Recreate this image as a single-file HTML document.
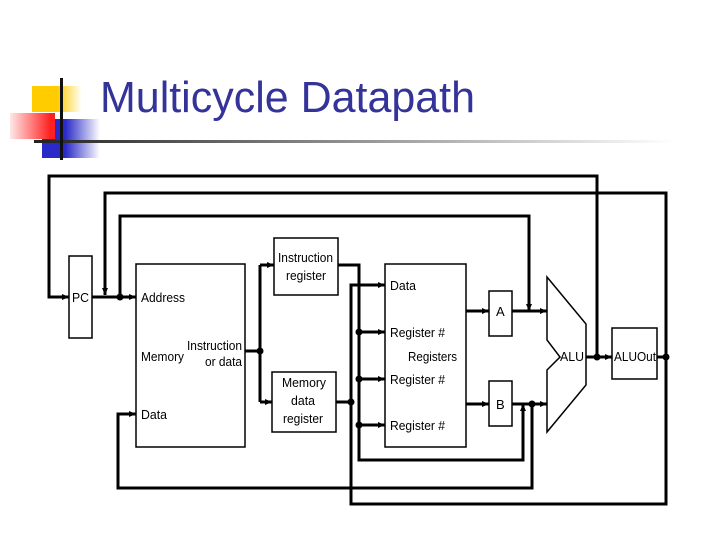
<!DOCTYPE html>
<html><head><meta charset="utf-8"><style>
html,body{margin:0;padding:0;background:#fff;}
svg{display:block;}
</style></head><body>
<svg width="720" height="540" viewBox="0 0 720 540" xmlns="http://www.w3.org/2000/svg" font-family="Liberation Sans, sans-serif">
<defs>
<linearGradient id="hl" x1="0" x2="1" y1="0" y2="0">
<stop offset="0" stop-color="#222"/><stop offset="0.45" stop-color="#888"/><stop offset="1" stop-color="#fff"/>
</linearGradient>
<linearGradient id="yg" x1="0" x2="1"><stop offset="0.5" stop-color="#ffcc00"/><stop offset="1" stop-color="#fff"/></linearGradient>
<linearGradient id="bg" x1="0" x2="1"><stop offset="0.4" stop-color="#2a2ac8"/><stop offset="1" stop-color="#fff"/></linearGradient>
<linearGradient id="rg" x1="1" x2="0"><stop offset="0.1" stop-color="#ff2020"/><stop offset="1" stop-color="#ffe8e8"/></linearGradient>
<marker id="ar" markerWidth="8" markerHeight="8" refX="7" refY="4" orient="auto" markerUnits="userSpaceOnUse">
<path d="M0,1 L7,4 L0,7 z" fill="#000"/></marker>
</defs>
<rect x="32" y="86" width="50" height="26" fill="url(#yg)"/>
<rect x="42" y="119" width="58" height="39" fill="url(#bg)"/>
<rect x="10" y="113" width="45" height="26" fill="url(#rg)"/>
<rect x="34" y="140" width="640" height="3" fill="url(#hl)"/>
<rect x="60" y="78" width="3" height="82" fill="#111"/>
<text x="100" y="112" font-size="44" fill="#333399" textLength="375" lengthAdjust="spacingAndGlyphs">Multicycle Datapath</text>

<g stroke="#000" stroke-width="3" fill="none">
<rect x="69" y="256" width="23" height="82" stroke-width="1.5"/>
<rect x="136" y="264" width="109" height="183" stroke-width="1.5"/>
<rect x="274" y="238" width="64" height="57" stroke-width="1.5"/>
<rect x="272" y="372" width="64" height="60" stroke-width="1.5"/>
<rect x="385" y="264" width="81" height="183" stroke-width="1.5"/>
<rect x="489" y="291" width="23" height="45" stroke-width="1.5"/>
<rect x="489" y="381" width="23" height="45" stroke-width="1.5"/>
<rect x="612" y="328" width="45" height="51" stroke-width="1.5"/>
<polygon points="547,277 586,324 586,385 547,432 547,370 560,357 547,340" stroke-width="1.5"/>

<path d="M597,357 V176 H49 V297 H69" marker-end="url(#ar)"/>
<path d="M666,357 V193 H105 V295" marker-end="url(#ar)"/>
<path d="M666,357 V504 H351 V285 H385" marker-end="url(#ar)"/>
<path d="M120,297 V216 H529 V311" marker-end="url(#ar)"/>
<path d="M92,297 H136" marker-end="url(#ar)"/>
<path d="M245,351 H260"/>
<path d="M260,265 V402"/>
<path d="M260,265 H274" marker-end="url(#ar)"/>
<path d="M260,402 H272" marker-end="url(#ar)"/>
<path d="M338,265 H359 V460 H523 V404" marker-end="url(#ar)"/>
<path d="M359,332 H385" marker-end="url(#ar)"/>
<path d="M359,379 H385" marker-end="url(#ar)"/>
<path d="M359,425 H385" marker-end="url(#ar)"/>
<path d="M336,402 H351"/>
<path d="M466,311 H489" marker-end="url(#ar)"/>
<path d="M466,404 H489" marker-end="url(#ar)"/>
<path d="M512,311 H547" marker-end="url(#ar)"/>
<path d="M512,404 H547" marker-end="url(#ar)"/>
<path d="M532,404 V488 H118 V414 H136" marker-end="url(#ar)"/>
<path d="M586,357 H612" marker-end="url(#ar)"/>
<path d="M657,357 H666"/>
</g>
<g fill="#000">
<circle cx="120" cy="297" r="3.5"/>
<circle cx="260" cy="351" r="3.5"/>
<circle cx="359" cy="332" r="3.5"/>
<circle cx="359" cy="379" r="3.5"/>
<circle cx="359" cy="425" r="3.5"/>
<circle cx="351" cy="402" r="3.5"/>
<circle cx="532" cy="404" r="3.5"/>
<circle cx="597" cy="357" r="3.5"/>
<circle cx="666" cy="357" r="3.5"/>
</g>
<g font-size="13" fill="#000" lengthAdjust="spacingAndGlyphs">
<text x="72" y="302" textLength="17" lengthAdjust="spacingAndGlyphs">PC</text>
<text x="141" y="302" textLength="44" lengthAdjust="spacingAndGlyphs">Address</text>
<text x="141" y="361" textLength="43" lengthAdjust="spacingAndGlyphs">Memory</text>
<text x="187" y="350" textLength="55" lengthAdjust="spacingAndGlyphs">Instruction</text>
<text x="205" y="366" textLength="37" lengthAdjust="spacingAndGlyphs">or data</text>
<text x="141" y="419" textLength="26" lengthAdjust="spacingAndGlyphs">Data</text>
<text x="278" y="262" textLength="55" lengthAdjust="spacingAndGlyphs">Instruction</text>
<text x="286" y="280" textLength="40" lengthAdjust="spacingAndGlyphs">register</text>
<text x="282" y="387" textLength="44" lengthAdjust="spacingAndGlyphs">Memory</text>
<text x="291" y="405" textLength="24" lengthAdjust="spacingAndGlyphs">data</text>
<text x="283" y="423" textLength="40" lengthAdjust="spacingAndGlyphs">register</text>
<text x="390" y="290" textLength="26" lengthAdjust="spacingAndGlyphs">Data</text>
<text x="390" y="337" textLength="55" lengthAdjust="spacingAndGlyphs">Register #</text>
<text x="408" y="361" textLength="49" lengthAdjust="spacingAndGlyphs">Registers</text>
<text x="390" y="384" textLength="55" lengthAdjust="spacingAndGlyphs">Register #</text>
<text x="390" y="430" textLength="55" lengthAdjust="spacingAndGlyphs">Register #</text>
<text x="496" y="316">A</text>
<text x="496" y="409">B</text>
<text x="560" y="361" textLength="24" lengthAdjust="spacingAndGlyphs">ALU</text>
<text x="614" y="361" textLength="42" lengthAdjust="spacingAndGlyphs">ALUOut</text>
</g>
</svg>
</body></html>
